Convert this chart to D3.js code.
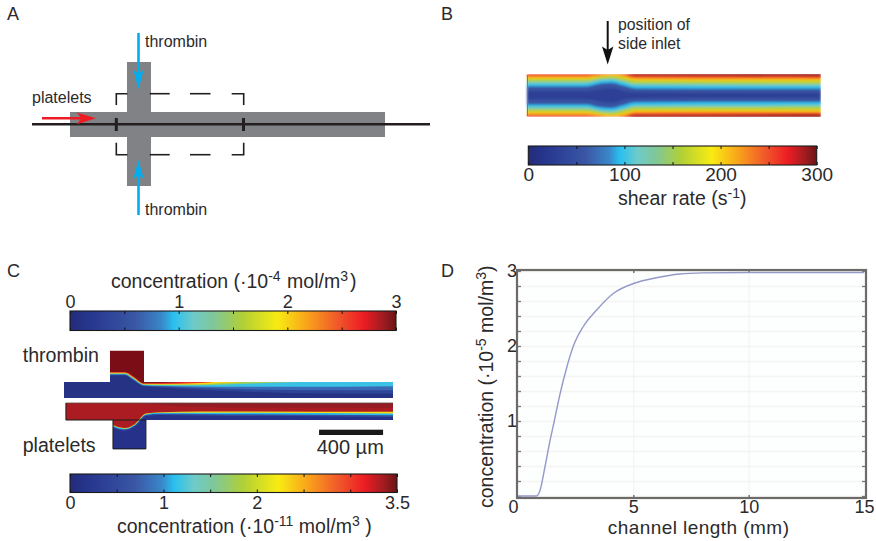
<!DOCTYPE html>
<html><head><meta charset="utf-8">
<script src="https://cdn.jsdelivr.net/npm/d3@7"></script>
<style>
html,body{margin:0;padding:0;background:#fff}
svg{display:block}
text{font-family:"Liberation Sans",Arial,sans-serif;fill:#2b2a2b}
</style></head><body>
<svg id="c" width="876" height="541"></svg>
<script>
// ---- colour map
const colorPositions=[0,0.05,0.2,0.28,0.318,0.38,0.44,0.53,0.636,0.73,0.82,0.9,0.96,1];
const colorValues=["#242c78","#25348c","#3a57a5","#3a86c8","#29c0f0","#6fcbc8","#7fc79a","#b1d036","#f8ec12","#f9a11b","#f0592a","#ed1c24","#a01c20","#6a1416"];

// ---- panel D curve
const curveX=[0,0.4,0.8,0.95,1.17,1.35,1.58,1.8,2.1,2.4,2.83,3.41,4.13,5.07,6,7,8,10,12,15];
const curveY=[0.0,0.0,0.0,0.07,0.39,0.68,1.01,1.33,1.7,2.0,2.26,2.48,2.7,2.84,2.91,2.96,2.975,2.98,2.98,2.98];
const xTicksD=[0,5,10,15];
const yTicksD=[0,1,2,3];
const yMinorD=d3.range(0,16).map(i=>i*0.2);

// ---- panel B shear field (half-width of each level, fraction of channel half-height)
const shearStations=[0,20,25,28.6,32.7,37,100];
const shearLevels=[290,250,205,160,120,95,55,32];
const shearWidths=[
 [1,1,1,1,1.03,1.07,1.07],
 [1.05,1.05,1.05,1.05,1.05,.97,.94],
 [.92,.92,.99,1.02,.98,.84,.82],
 [.8,.8,.9,.94,.86,.72,.7],
 [.68,.68,.8,.84,.72,.58,.56],
 [.56,.56,.7,.74,.62,.47,.45],
 [.44,.44,.58,.62,.48,.34,.32],
 [.2,.2,.3,.36,.22,.14,.12]
];

// ---- panel C thrombin field (depth of contour below channel top, µm)
const thrStations=[287,381,430,500,600,850,1050,1400,2056];
const thrLevels=[2.95,2.6,2.0,1.5,1.0,0.7,0.35].reverse();
const thrDepths=[
 [-62,-62,-38,8,6,-5,-20,-30,-30],
 [-58,-58,-32,11,12,6,-10,-30,-30],
 [-54,-54,-28,14,16,14,3,-15,-30],
 [-52,-52,-25,17,20,20,14,2,-15],
 [-48,-48,-20,20,24,28,30,30,26],
 [-44,-44,-16,24,28,38,44,50,52],
 [-40,-40,-12,28,34,50,58,68,74]
].reverse();

// ---- panel C platelet field
const pltStations=[0,305,306,381,444,512,600,850,2056];
const pltLevels=[0.55,1.1,2.3,3.0];
const pltDepths=[
 [100,100,142,162,137,76,71,73,82],
 [100,100,138,155,131,70,63,64,72],
 [100,100,133,151,127,66,58,57,62],
 [100,100,129,147,123,62,54,50,52]
];
const pltDarkDepths=[0,0,0,0,0,0,10,25,30];

// ---- colour bar ticks
const barBLabels=[0,100,200,300];
const barBTicks=[0,50,100,150,200,250,300];
const barTopLabels=[0,1,2,3];
const barTopTicks=[0,.5,1,1.5,2,2.5,3];
const barBotLabels=[0,1,2,3.5];
const barBotTicks=[0,.5,1,1.5,2,2.5,3,3.5];

const svg=d3.select("#c");
const defs=svg.append("defs");
const frac=d3.scaleLinear().domain(colorPositions).range(colorValues).interpolate(d3.interpolateRgb);
const grad=defs.append("linearGradient").attr("id","jet");
colorPositions.forEach((p,i)=>grad.append("stop").attr("offset",p).attr("stop-color",colorValues[i]));
const soft=(id,s)=>defs.append("filter").attr("id",id).attr("x","-5%").attr("y","-30%").attr("width","110%").attr("height","160%")
  .append("feGaussianBlur").attr("stdDeviation",s);
soft("blurB",0.9);soft("blurC",0.5);
const label=(x,y,t,size,anchor)=>svg.append("text").attr("x",x).attr("y",y).attr("font-size",size).attr("text-anchor",anchor||"start").text(t);

// ===== panel letters
[["A",7,20],["B",441,20],["C",7,277],["D",441,277]].forEach(d=>label(d[1],d[2],d[0],18));

// ===== PANEL A
const GREY="#808285",INK="#231f20",BLUE="#00aeef",RED="#ed1c24";
const a=svg.append("g");
const rect=(x,y,w,h,f)=>a.append("rect").attr("x",x).attr("y",y).attr("width",w).attr("height",h).attr("fill",f);
rect(70,112,315,25,GREY);rect(127,62,24,124,GREY);
a.append("line").attr("x1",32).attr("x2",430).attr("y1",124.3).attr("y2",124.3).attr("stroke",INK).attr("stroke-width",2.5);
[116.3,243.5].forEach(x=>a.append("line").attr("x1",x).attr("x2",x).attr("y1",118).attr("y2",131).attr("stroke",INK).attr("stroke-width",3));
const dash=["M116.3 105V93.7H127.5","M149.7 93.7H169.7","M190 93.7H210.5","M231.7 93.7H243.7V105",
 "M116.3 142.7V154.7H127.5","M149.7 154.7H169.7","M190 154.7H210.5","M231.7 154.7H243.7V142.7"];
dash.forEach(d=>a.append("path").attr("d",d).attr("fill","none").attr("stroke",INK).attr("stroke-width",1.6));
a.append("line").attr("x1",138.5).attr("x2",138.5).attr("y1",33).attr("y2",78).attr("stroke",BLUE).attr("stroke-width",2.6);
a.append("path").attr("d","M133.3 70L138.5 89L143.7 70L138.5 74Z").attr("fill",BLUE);
a.append("line").attr("x1",138.5).attr("x2",138.5).attr("y1",215).attr("y2",170).attr("stroke",BLUE).attr("stroke-width",2.6);
a.append("path").attr("d","M133.3 179L138.5 160L143.7 179L138.5 175Z").attr("fill",BLUE);
a.append("line").attr("x1",42).attr("x2",85).attr("y1",118.3).attr("y2",118.3).attr("stroke",RED).attr("stroke-width",2.6);
a.append("path").attr("d","M77 112.5L96 118.3L77 124.2L81 118.3Z").attr("fill",RED);
label(145,46.7,"thrombin",16);label(145,214.5,"thrombin",16);label(32,102.7,"platelets",16);

// ===== PANEL B
label(618,30,"position of",15.8);label(618,48.7,"side inlet",15.8);
svg.append("line").attr("x1",607.7).attr("x2",607.7).attr("y1",21).attr("y2",52).attr("stroke","#111").attr("stroke-width",2);
svg.append("path").attr("d","M602 46.5L607.7 64.5L613.4 46.5L607.7 50Z").attr("fill","#111");

const bx=d3.scaleLinear().domain([0,100]).range([527,821]);
const by=d3.scaleLinear().domain([-1,1]).range([115.8,75]);
const shearColor=d3.scaleLinear().domain([0,300]).range([0,1]);
defs.append("clipPath").attr("id","clipB").append("rect").attr("x",525).attr("y",74).attr("width",296).attr("height",43);
const gB=svg.append("g").attr("clip-path","url(#clipB)").append("g").attr("filter","url(#blurB)");
const areaB=d3.area().x(d=>bx(d.x)).y0(d=>by(-d.h)).y1(d=>by(d.h)).curve(d3.curveMonotoneX);
shearLevels.forEach((lev,i)=>{
  gB.append("path").datum(shearStations.map((x,j)=>({x,h:shearWidths[i][j]})))
    .attr("d",areaB).attr("fill",frac(shearColor(lev)));
});
svg.append("line").attr("x1",527.5).attr("x2",527.5).attr("y1",75).attr("y2",116).attr("stroke","#8a7a50").attr("stroke-width",1);

// colour bars
function colorBar(x0,x1,y0,y1,dom,ticks,labels,labelAbove,fs){
  const s=d3.scaleLinear().domain(dom).range([x0,x1]);
  const g=svg.append("g");
  g.append("rect").attr("x",x0).attr("y",y0).attr("width",x1-x0).attr("height",y1-y0).attr("fill","url(#jet)");
  const tk1=g.append("g").attr("transform",`translate(0,${y0})`).call(d3.axisBottom(s).tickValues(ticks).tickSize(3).tickFormat(""));
  const tk2=g.append("g").attr("transform",`translate(0,${y1})`).call(d3.axisTop(s).tickValues(ticks).tickSize(3).tickFormat(""));
  [tk1,tk2].forEach(t=>{t.select(".domain").remove();t.selectAll("line").attr("stroke","#111").attr("stroke-width",1);});
  g.append("rect").attr("x",x0).attr("y",y0).attr("width",x1-x0).attr("height",y1-y0).attr("fill","none").attr("stroke","#1a1a1a").attr("stroke-width",1.1);
  const ax=labelAbove?d3.axisTop(s):d3.axisBottom(s);
  const tl=g.append("g").attr("transform",`translate(0,${labelAbove?y0:y1})`).call(ax.tickValues(labels).tickSize(0).tickPadding(0).tickFormat(d3.format("~g")));
  tl.select(".domain").remove();
  tl.selectAll("text").attr("font-size",fs).attr("font-family",'"Liberation Sans",Arial,sans-serif').attr("fill","#2b2a2b")
    .attr("dy",null).attr("y",labelAbove?-3:16);
}
colorBar(528.3,816.7,146,165,[0,300],barBTicks,barBLabels,false,19);
colorBar(70,396,311,330.5,[0,3],barTopTicks,barTopLabels,true,18);
colorBar(70,397,474,492.5,[0,3.5],barBotTicks,barBotLabels,false,18);

function rich(x,y,parts,fs,extra){
  const t=svg.append("text").attr("x",x).attr("y",y).attr("font-size",fs);
  if(extra)t.attr("transform",extra);
  parts.forEach(p=>{
    const s=t.append("tspan").text(p[0]);
    if(p[1]){s.attr("dy",-p[1]).attr("font-size",fs*0.72);}
    if(p[2]){s.attr("dy",p[2]);}
    if(p[3]){s.attr("dx",p[3]);}
  });
  return t;
}
rich(618,205,[["shear rate (s"],["-1",7],[")",null,7]],19.5);
rich(111,288,[["concentration (·10"],["-4",7],[" mol/m",null,7,1],["3",7],[")",null,7,2]],19.5);
rich(117,533,[["concentration (·10"],["-11",7],[" mol/m",null,7],["3",7],["  )",null,7]],19.5);

// ===== PANEL C fields
const cx=d3.scaleLinear().domain([0,2056]).range([64,393]);
const cyT=d3.scaleLinear().domain([0,100]).range([382,398]);
const cyP=d3.scaleLinear().domain([0,100]).range([403,420]);
const c35=d3.scaleLinear().domain([0,3.5]).range([0,1]);
const c3=d3.scaleLinear().domain([0,3]).range([0,1]);

const shapeT=d3.line().x(d=>cx(d[0])).y(d=>cyT(d[1]))([[0,0],[287,0],[287,-195],[500,-195],[500,0],[2056,0],[2056,100],[0,100]])+"Z";
const shapeP=d3.line().x(d=>cx(d[0])).y(d=>cyP(d[1]))([[12,0],[2056,0],[2056,100],[306,100],[512,100],[512,270],[306,270],[306,100],[12,100]])+"Z";
defs.append("clipPath").attr("id","clipT").append("path").attr("d",shapeT);
defs.append("clipPath").attr("id","clipP").append("path").attr("d",shapeP);

const gT=svg.append("g").attr("clip-path","url(#clipT)").append("g").attr("filter","url(#blurC)");
gT.append("path").attr("d",shapeT).attr("fill",frac(0.03));
const areaT=d3.area().x(d=>cx(d.x)).y0(cyT(-230)).y1(d=>cyT(d.d)).curve(d3.curveMonotoneX);
thrLevels.forEach((lev,i)=>{
  gT.append("path").datum(thrStations.map((x,j)=>({x,d:thrDepths[i][j]})))
    .attr("d",areaT).attr("fill",frac(c3(lev)));
});
gT.append("path").datum(thrStations.slice(0,4).map((x,j)=>({x,d:thrDepths[6][j]-2})))
  .attr("d",areaT).attr("fill","#7a1113");

const gP=svg.append("g").attr("clip-path","url(#clipP)").append("g").attr("filter","url(#blurC)");
gP.append("path").attr("d",shapeP).attr("fill","#27338a");
const areaP=d3.area().x(d=>cx(d.x)).y0(cyP(-10)).y1(d=>cyP(d.d)).curve(d3.curveMonotoneX);
pltLevels.forEach((lev,i)=>{
  gP.append("path").datum(pltStations.map((x,j)=>({x,d:pltDepths[i][j]})))
    .attr("d",areaP).attr("fill",lev===3.0?"#aa1f23":frac(c35(lev)));
});
gP.append("path").datum(pltStations.map((x,j)=>({x,d:pltDarkDepths[j]})))
  .attr("d",areaP).attr("fill","#951c20");

const outline=[[12,0],[12,100],[306,100],[306,270],[512,270],[512,100],[306,100]];
svg.append("path").attr("d",d3.line().x(d=>cx(d[0])).y(d=>cyP(d[1]))(outline)).attr("fill","none").attr("stroke","#1a1a1a").attr("stroke-width",1);
svg.append("line").attr("x1",cx(12)).attr("x2",cx(2056)).attr("y1",cyP(0)).attr("y2",cyP(0)).attr("stroke","#5a4a40").attr("stroke-width",0.8);

label(22.7,361.7,"thrombin",19.6);label(22.7,452,"platelets",19.6);
svg.append("rect").attr("x",cx(1594)).attr("y",429.7).attr("width",cx(400)-cx(0)).attr("height",5.3).attr("fill","#1a1a1a");
label(316.7,454,"400 µm",20);

// ===== PANEL D
const dx=d3.scaleLinear().domain([0,15]).range([518,864]);
const dy=d3.scaleLinear().domain([0,3]).range([496,271]);
const gD=svg.append("g");
gD.append("rect").attr("x",517).attr("y",270).attr("width",349).attr("height",228).attr("fill","#fdfefe");
const gridY=gD.append("g").attr("transform","translate(517,0)").call(d3.axisRight(dy).tickValues(yMinorD).tickSize(349).tickFormat(""));
gridY.select(".domain").remove();
gridY.selectAll("line").attr("stroke","#f4f4f0").attr("stroke-width",1.5);
const gridX=gD.append("g").attr("transform","translate(0,270)").call(d3.axisBottom(dx).tickValues([5,10]).tickSize(228).tickFormat(""));
gridX.select(".domain").remove();
gridX.selectAll("line").attr("stroke","#f0f1f3").attr("stroke-width",1);
[[517,1],[866,-1]].forEach(d=>{
  const ax=gD.append("g").attr("transform",`translate(${d[0]},0)`).call((d[1]>0?d3.axisRight(dy):d3.axisLeft(dy)).tickValues(yMinorD).tickSize(4).tickFormat(""));
  ax.select(".domain").remove();ax.selectAll("line").attr("stroke","#77787b").attr("stroke-width",1.3);
});
[[270,1],[498,-1]].forEach(d=>{
  const ax=gD.append("g").attr("transform",`translate(0,${d[0]})`).call((d[1]>0?d3.axisBottom(dx):d3.axisTop(dx)).tickValues([5,10]).tickSize(3).tickFormat(""));
  ax.select(".domain").remove();ax.selectAll("line").attr("stroke","#55565a").attr("stroke-width",1.2);
});
const lineD=d3.line().x((d,i)=>dx(curveX[i])).y(d=>dy(d)).curve(d3.curveMonotoneX);
gD.append("path").attr("d",lineD(curveY)).attr("fill","none").attr("stroke","#9499ca").attr("stroke-width",1.4);
gD.append("rect").attr("x",517).attr("y",270).attr("width",349).attr("height",228).attr("fill","none").attr("stroke","#6d6a6a").attr("stroke-width",2.2);
const xl=gD.append("g").attr("transform","translate(0,498)").call(d3.axisBottom(dx).tickValues(xTicksD).tickSize(0).tickPadding(0).tickFormat(d3.format("d")));
xl.select(".domain").remove();
xl.selectAll("text").attr("font-size",18).attr("font-family",'"Liberation Sans",Arial,sans-serif').attr("fill","#2b2a2b").attr("dy",null).attr("y",14.5);
const yl=gD.append("g").attr("transform","translate(517,0)").call(d3.axisLeft(dy).tickValues(yTicksD.slice(1)).tickSize(0).tickPadding(0).tickFormat(d3.format("d")));
yl.select(".domain").remove();
yl.selectAll("text").attr("font-size",18).attr("font-family",'"Liberation Sans",Arial,sans-serif').attr("fill","#2b2a2b").attr("dy","0.3em");
xl.selectAll("text").filter(d=>d===0).attr("x",-5);
svg.append("text").attr("x",607.7).attr("y",534).attr("font-size",19).attr("letter-spacing",0.45).text("channel length (mm)");
rich(0,0,[["concentration (·10"],["-5",7],[" mol/m",null,7],["3",7],[")",null,7]],19.5,"translate(493,508) rotate(-90)");
</script>
</body></html>
